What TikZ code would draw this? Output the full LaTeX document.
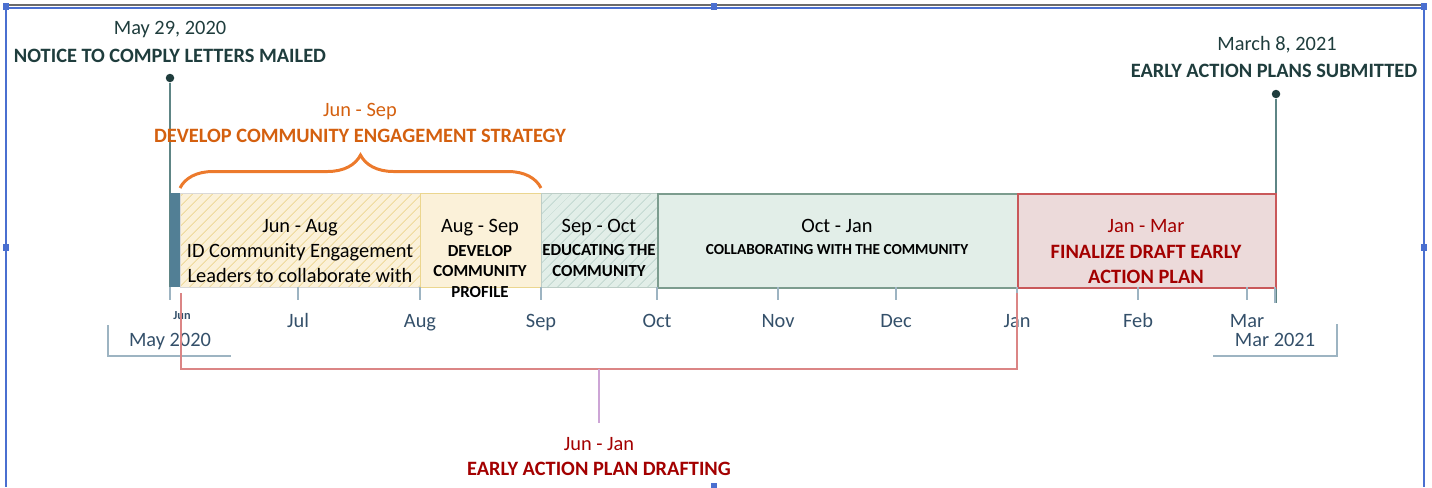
\documentclass[tikz,border=0pt]{standalone}
\usepackage{fontspec}
\setmainfont{Carlito}
\usetikzlibrary{patterns.meta,decorations.pathreplacing}

\definecolor{milestonetxt}{HTML}{1F3D3D}
\definecolor{milestoneline}{HTML}{5E8585}
\definecolor{orangetxt}{HTML}{D4600F}
\definecolor{orangeline}{HTML}{EC7A2C}
\definecolor{redtxt}{HTML}{A30000}
\definecolor{redline}{HTML}{DB8585}
\definecolor{purpletick}{HTML}{CDA5D6}
\definecolor{monthtxt}{HTML}{34506A}
\definecolor{tickline}{HTML}{9DB4C2}
\definecolor{yellowfill}{HTML}{FBF1D9}
\definecolor{yellowhatch}{HTML}{F0DCA2}
\definecolor{yellowline}{HTML}{EBD68F}
\definecolor{greenfill}{HTML}{E2EEE8}
\definecolor{greenhatch}{HTML}{C6DBD4}
\definecolor{greenline}{HTML}{7C9C8E}
\definecolor{redfill}{HTML}{ECDADA}
\definecolor{redborder}{HTML}{C9585A}
\definecolor{stripfill}{HTML}{527F95}
\definecolor{framegrey}{HTML}{6B6B6B}
\definecolor{frameblue}{HTML}{4A6FD0}

\newcommand\regtxt{\fontsize{11.6}{14}\selectfont}
\newcommand\captxt{\fontsize{11.6}{14}\selectfont\bfseries}
\newcommand\boxcaptxt{\fontsize{9.6}{11.4}\selectfont\bfseries}

\begin{document}
\begin{tikzpicture}[x=0.02cm,y=-0.02cm,
    box/.style={anchor=north west, inner sep=0pt, minimum height=1.88cm},
    boxtext/.style={anchor=base, align=center, inner sep=0pt},
    month/.style={anchor=base, inner sep=0pt, text=monthtxt, font=\regtxt},
    tick/.style={draw=tickline, line width=0.7pt},
    dot/.style={circle, fill=milestonetxt, inner sep=0pt, minimum size=0.17cm},
    msline/.style={draw=milestoneline, line width=1.1pt}]
    \useasboundingbox (0,0) rectangle (1432,487);

    % Rahmen
    \draw[framegrey, line width=1pt] (6,5) -- (1424,5);
    \draw[frameblue, line width=0.8pt] (6,8) -- (1424,8);
    \draw[frameblue, line width=1.1pt] (6,7) -- (6,487);
    \draw[frameblue, line width=1.1pt] (1424,7) -- (1424,487);
    \fill[frameblue] (3,3) rectangle (9,10);
    \fill[frameblue] (711,3) rectangle (717,10);
    \fill[frameblue] (1421,3) rectangle (1427,10);
    \fill[frameblue] (3,244) rectangle (9,251);
    \fill[frameblue] (1421,244) rectangle (1427,251);
    \fill[frameblue] (711,483) rectangle (717,490);

    % Meilensteine
    \node[dot] (ms1) at (170,78) {};
    \node[dot] (ms2) at (1276,94) {};
    \coordinate (ms1end) at (170,300);
    \coordinate (ms2end) at (1276,303);
    \draw[msline] (ms1) -- (ms1end);
    \draw[msline] (ms2) -- (ms2end);
    \node[anchor=base, text=milestonetxt, font=\regtxt] (ms1date) at (170,34) {May 29, 2020};
    \node[anchor=base, text=milestonetxt, font=\captxt] (ms1txt) at (170,62) {NOTICE TO COMPLY LETTERS MAILED};
    \node[anchor=base, text=milestonetxt, font=\regtxt] (ms2date) at (1277,50) {March 8, 2021};
    \node[anchor=base, text=milestonetxt, font=\captxt] (ms2txt) at (1274,77) {EARLY ACTION PLANS SUBMITTED};

    % Abschnitte
    \node[box, minimum width=0.2cm, fill=stripfill] (strip) at (170,193) {};
    \node[box, minimum width=4.8cm, draw=black!15, preaction={fill=yellowfill},
        pattern={Lines[angle=45,distance=4pt,line width=0.6pt]}, pattern color=yellowhatch] (junaug) at (180,193) {};
    \node[box, minimum width=2.42cm, draw=yellowline, fill=yellowfill] (augsep) at (420,193) {};
    \node[box, minimum width=2.32cm, draw=greenline!50, preaction={fill=greenfill},
        pattern={Lines[angle=45,distance=4pt,line width=0.6pt]}, pattern color=greenhatch] (sepoct) at (541,193) {};
    \node[box, minimum width=7.2cm, draw=greenline, line width=1pt, fill=greenfill] (octjan) at (657,193) {};
    \node[box, minimum width=5.16cm, draw=redborder, line width=1pt, fill=redfill] (janmar) at (1017,193) {};

    \node[boxtext, font=\regtxt] (junaugT) at (300,282) {Jun - Aug\\ID Community Engagement\\Leaders to collaborate with};
    \node[boxtext, font=\regtxt] (augsepT) at (480,232) {Aug - Sep};
    \node[boxtext, font=\boxcaptxt] (augsepB) at (480,297) {DEVELOP\\COMMUNITY\\PROFILE};
    \node[boxtext, font=\regtxt] (sepoctT) at (599,232) {Sep - Oct};
    \node[boxtext, font=\boxcaptxt] (sepoctB) at (599,276) {EDUCATING THE\\COMMUNITY};
    \node[boxtext, font=\regtxt] (octjanT) at (837,232) {Oct - Jan};
    \node[boxtext, font=\fontsize{8.7}{10}\selectfont\bfseries] (octjanB) at (837,254) {COLLABORATING WITH THE COMMUNITY};
    \node[boxtext, font=\regtxt, text=redtxt] (janmarT) at (1146,232) {Jan - Mar};
    \node[boxtext, font=\captxt, text=redtxt] (janmarB) at (1146,283) {FINALIZE DRAFT EARLY\\ACTION PLAN};

    % Klammer oben
    \coordinate (braceL) at (180,188);
    \coordinate (braceR) at (541,188);
    \draw[orangeline, line width=1.7pt, decorate, decoration={brace, amplitude=0.66cm}] (braceL) -- (braceR);
    \node[anchor=base, text=orangetxt, font=\regtxt] (devDate) at (360,116) {Jun - Sep};
    \node[anchor=base, text=orangetxt, font=\captxt] (devTxt) at (360,142) {DEVELOP COMMUNITY ENGAGEMENT STRATEGY};

    % Achse
    \draw[tick] (170,287) -- (170,300);
    \draw[tick] (298,287) -- (298,300);
    \draw[tick] (420,287) -- (420,300);
    \draw[tick] (541,287) -- (541,300);
    \draw[tick] (657,287) -- (657,300);
    \draw[tick] (778,287) -- (778,300);
    \draw[tick] (896,287) -- (896,300);
    \draw[tick] (1017,287) -- (1017,300);
    \draw[tick] (1138,287) -- (1138,300);
    \draw[tick] (1247,287) -- (1247,300);
    \draw[tick] (1275,287) -- (1275,303);

    \node[month, font=\fontsize{7}{8}\selectfont\bfseries] (mJun) at (182,319) {Jun};
    \node[month] (mJul) at (298,327) {Jul};
    \node[month] (mAug) at (420,327) {Aug};
    \node[month] (mSep) at (541,327) {Sep};
    \node[month] (mOct) at (657,327) {Oct};
    \node[month] (mNov) at (778,327) {Nov};
    \node[month] (mDec) at (896,327) {Dec};
    \node[month] (mJan) at (1017,327) {Jan};
    \node[month] (mFeb) at (1138,327) {Feb};
    \node[month] (mMar) at (1247,327) {Mar};

    % Jahre
    \node[month] (y2020) at (170,346) {May 2020};
    \node[month] (y2021) at (1275,346) {Mar 2021};
    \coordinate (y20a) at (108,325);
    \coordinate (y20b) at (108,356);
    \coordinate (y20c) at (231,356);
    \coordinate (y21a) at (1213,356);
    \coordinate (y21b) at (1337,356);
    \coordinate (y21c) at (1337,324);
    \draw[tickline, line width=0.9pt] (y20a) -- (y20b) -- (y20c);
    \draw[tickline, line width=0.9pt] (y21a) -- (y21b) -- (y21c);

    % Klammer unten
    \coordinate (draftA) at (181,293);
    \coordinate (draftB) at (181,369);
    \coordinate (draftC) at (1017,369);
    \coordinate (draftD) at (1017,293);
    \coordinate (draftM) at (599,369);
    \coordinate (draftN) at (599,423);
    \draw[redline, line width=1.1pt] (draftA) -- (draftB) -- (draftC) -- (draftD);
    \draw[purpletick, line width=0.9pt] (draftM) -- (draftN);
    \node[anchor=base, text=redtxt, font=\regtxt] (draftDate) at (599,450) {Jun - Jan};
    \node[anchor=base, text=redtxt, font=\captxt] (draftTxt) at (599,475) {EARLY ACTION PLAN DRAFTING};
\end{tikzpicture}
\end{document}
